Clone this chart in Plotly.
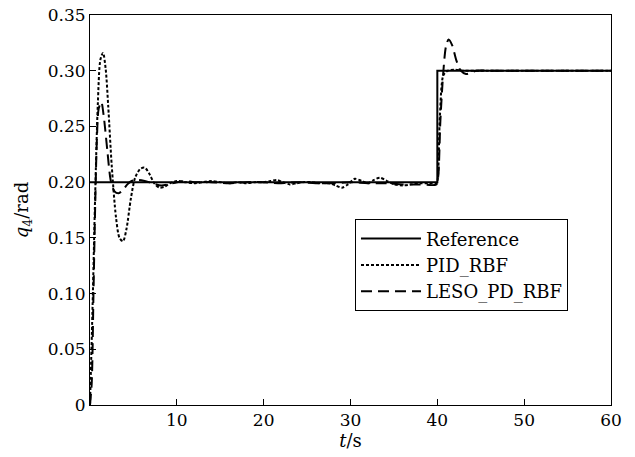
import plotly.graph_objects as go

# Reference signal
ref_t = [0, 40, 40, 60]
ref_q = [0.2, 0.2, 0.3, 0.3]

# PID_RBF response
pid_t = [0, 0.3, 0.6, 0.9, 1.2, 1.5, 1.8, 2.1, 2.5, 3.0, 3.4, 3.8, 4.2, 4.7, 5.2, 5.8,
         6.3, 6.8, 7.4, 8.0, 8.6, 9.2, 10, 11, 12, 13, 14, 15, 16, 17, 18, 19, 20,
         20.8, 21.5, 22.2, 23, 23.8, 24.5, 25.5, 26.5, 27.5, 28.3, 29, 29.7, 30.5,
         31.3, 32, 32.7, 33.4, 34.2, 35, 36, 37, 38, 39, 39.9, 40, 40.3, 40.7, 41.2,
         42, 43, 45, 50, 55, 60]
pid_q = [0, 0.09, 0.19, 0.27, 0.31, 0.316, 0.302, 0.268, 0.215, 0.168, 0.150, 0.147,
         0.158, 0.185, 0.204, 0.212, 0.213, 0.208, 0.199, 0.195, 0.196, 0.199, 0.201,
         0.200, 0.199, 0.200, 0.201, 0.200, 0.199, 0.200, 0.199, 0.200, 0.200,
         0.201, 0.202, 0.200, 0.198, 0.199, 0.200, 0.200, 0.199, 0.199, 0.197, 0.195,
         0.198, 0.203, 0.201, 0.199, 0.202, 0.204, 0.201, 0.198, 0.197, 0.198, 0.199,
         0.199, 0.199, 0.200, 0.260, 0.296, 0.300, 0.301, 0.300, 0.300, 0.300, 0.300, 0.300]

# LESO_PD_RBF response
leso_t = [0, 0.2, 0.4, 0.6, 0.8, 1.0, 1.3, 1.6, 2.0, 2.4, 2.8, 3.3, 3.8, 4.3, 4.8,
          5.5, 6.3, 7.2, 8.2, 9.0, 10, 11, 12, 14, 16, 18, 20, 22, 24, 26, 28, 30, 32,
          34, 36, 38, 39.9, 40.1, 40.35, 40.7, 41.0, 41.3, 41.7, 42.2, 42.7, 43.3,
          43.8, 44.5, 46, 50, 55, 60]
leso_q = [0, 0.02, 0.10, 0.18, 0.24, 0.266, 0.272, 0.258, 0.228, 0.201, 0.192, 0.190,
          0.193, 0.198, 0.201, 0.202, 0.201, 0.199, 0.197, 0.198, 0.200, 0.201, 0.200,
          0.200, 0.199, 0.200, 0.200, 0.199, 0.200, 0.199, 0.199, 0.200, 0.199,
          0.199, 0.198, 0.198, 0.198, 0.205, 0.255, 0.300, 0.322, 0.328, 0.323, 0.309,
          0.300, 0.297, 0.298, 0.300, 0.300, 0.300, 0.300, 0.300]

x_ticks = [10, 20, 30, 40, 50, 60]
y_ticks = [0, 0.05, 0.10, 0.15, 0.20, 0.25, 0.30, 0.35]
y_ticktext = ["0", "0.05", "0.10", "0.15", "0.20", "0.25", "0.30", "0.35"]

FONT = "DejaVu Serif"

fig = go.Figure()
fig.add_trace(go.Scatter(x=ref_t, y=ref_q, mode="lines", name="Reference",
                         line=dict(color="black", width=2)))
fig.add_trace(go.Scatter(x=pid_t, y=pid_q, mode="lines", name="PID_RBF",
                         line=dict(color="black", width=2, dash="3px,2px", shape="spline", smoothing=0.8)))
fig.add_trace(go.Scatter(x=leso_t, y=leso_q, mode="lines", name="LESO_PD_RBF",
                         line=dict(color="black", width=2, dash="11px,6px", shape="spline", smoothing=0.8)))

fig.update_layout(
    template="none",
    width=627, height=449,
    margin=dict(l=82, r=24, t=7, b=52, autoexpand=False),
    paper_bgcolor="white", plot_bgcolor="white",
    font=dict(family=FONT, size=17, color="black"),
    showlegend=True,
    legend=dict(x=0.5086, y=0.476, xanchor="left", yanchor="top",
                bordercolor="black", borderwidth=1, bgcolor="white",
                font=dict(family=FONT, size=18, color="black"),
                tracegroupgap=0, itemwidth=60),
    xaxis=dict(range=[0, 60], tickvals=x_ticks, ticks="inside", ticklen=6,
               tickcolor="black", showline=True, linecolor="black", linewidth=1,
               mirror=True, showgrid=False, zeroline=False, automargin=False,
               ticklabeloverflow="allow",
               tickfont=dict(family=FONT, size=17),
               title=dict(text="<i>t</i>/s", standoff=2,
                          font=dict(family=FONT, size=18))),
    yaxis=dict(range=[0, 0.35001], tickvals=y_ticks, ticktext=y_ticktext,
               ticks="inside", ticklen=6, tickcolor="black",
               showline=True, linecolor="black", linewidth=1, mirror=True,
               showgrid=False, zeroline=False, automargin=False,
               ticklabeloverflow="allow",
               tickfont=dict(family=FONT, size=17),
               title=dict(text="<i>q</i><sub>4</sub>/rad", standoff=14,
                          font=dict(family=FONT, size=18))),
)

fig.write_html("out.html")
